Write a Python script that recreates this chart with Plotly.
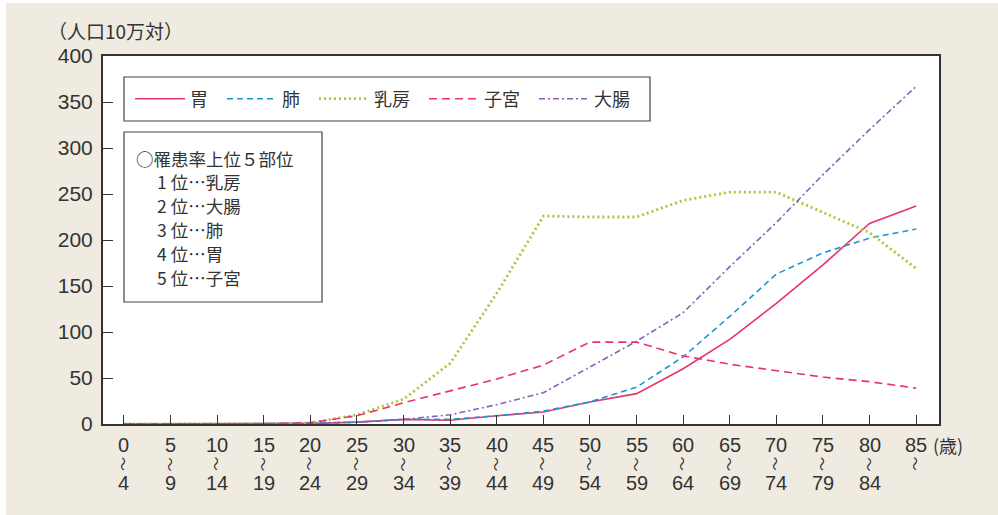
import plotly.graph_objects as go

# ---- data ----
age_start = ["0", "5", "10", "15", "20", "25", "30", "35", "40", "45",
             "50", "55", "60", "65", "70", "75", "80", "85"]
age_end = ["4", "9", "14", "19", "24", "29", "34", "39", "44", "49",
           "54", "59", "64", "69", "74", "79", "84", ""]

stomach = [0.1, 0.1, 0.1, 0.2, 0.5, 2, 5, 4, 9, 13, 24, 33, 60, 92, 131, 173, 218, 237]
lung = [0.1, 0.1, 0.1, 0.2, 0.5, 2, 5, 5, 9, 14, 24, 40, 73, 117, 163, 186, 202, 212]
breast = [0, 0, 0, 0.2, 1, 10, 27, 66, 142, 226, 225, 225, 243, 252, 252, 230, 208, 169]
uterus = [0, 0, 0, 0.2, 1.5, 9, 23, 36, 49, 64, 89, 89, 74, 65, 58, 51, 46, 39]
colon = [0.1, 0.1, 0.1, 0.3, 1, 2, 5, 10, 21, 34, 62, 90, 121, 171, 219, 271, 320, 367]

series_names = ["胃", "肺", "乳房", "子宮", "大腸"]
ranking_title = "○罹患率上位５部位"
ranking = ["1 位…乳房", "2 位…大腸", "3 位…肺", "4 位…胃", "5 位…子宮"]
y_ticks = [0, 50, 100, 150, 200, 250, 300, 350, 400]

# ---- layout helpers ----
W, H = 998, 515
L, R, T, B = 103, 939, 56, 424


def px_x(p):
    return (p - L) / (R - L)


def px_y(p):
    return (B - p) / (B - T)


CJK = "Noto Sans CJK JP, sans-serif"
NUM = "Liberation Sans Narrow, Liberation Sans, Arial, sans-serif"
TXT = "#333333"
PINK = "#E8336F"
BLUE = "#1E96D2"
GREEN = "#A8C83C"
PURPLE = "#8C5FB4"

x = list(range(len(age_start)))

styles = [
    (stomach, PINK, "solid", 1.6),
    (lung, BLUE, "6px,4px", 1.6),
    (breast, GREEN, "2px,3px", 2.8),
    (uterus, PINK, "8px,5px", 1.6),
    (colon, PURPLE, "6px,3px,2px,3px", 1.6),
]

fig = go.Figure()
for name, (vals, col, dash, w) in zip(series_names, styles):
    fig.add_trace(go.Scatter(
        x=x, y=vals, mode="lines", name=name + "\u2002",
        line=dict(color=col, dash=dash, width=w),
        hoverinfo="skip",
    ))

annotations = []
# x tick labels: three rows (start, wave, end)
for i, (a, b) in enumerate(zip(age_start, age_end)):
    annotations.append(dict(x=i, y=0, xref="x", yref="paper", text=a,
                            showarrow=False, yanchor="middle", yshift=-21,
                            font=dict(family=NUM, size=20, color=TXT)))
    annotations.append(dict(x=i, y=0, xref="x", yref="paper", text="〜",
                            showarrow=False, yanchor="middle", xanchor="center",
                            yshift=-40, textangle=90,
                            font=dict(family=CJK, size=14, color=TXT)))
    if b:
        annotations.append(dict(x=i, y=0, xref="x", yref="paper", text=b,
                                showarrow=False, yanchor="middle", yshift=-59,
                                font=dict(family=NUM, size=20, color=TXT)))

# unit labels
annotations.append(dict(x=px_x(931), y=px_y(445), xref="paper", yref="paper",
                        text="(歳)", showarrow=False, xanchor="left", yanchor="middle",
                        font=dict(family=CJK, size=18, color=TXT)))
annotations.append(dict(x=px_x(46), y=px_y(30), xref="paper", yref="paper",
                        text="（人口10万対）", showarrow=False, xanchor="left", yanchor="middle",
                        font=dict(family=CJK, size=19, color=TXT)))

# ranking box text, one line each
rank_lines = [ranking_title] + ["\u3000\u2009" + r for r in ranking]
for k, line in enumerate(rank_lines):
    annotations.append(dict(x=px_x(134), y=px_y(158 + 23.8 * k), xref="paper", yref="paper",
                            text=line, showarrow=False, xanchor="left", yanchor="middle",
                            align="left",
                            font=dict(family=CJK, size=17.5, color=TXT)))

shapes = [
    # white page edges
    dict(type="rect", xref="paper", yref="paper",
         x0=px_x(0), x1=px_x(6), y0=px_y(H), y1=px_y(0),
         fillcolor="white", line=dict(width=0), layer="below"),
    dict(type="rect", xref="paper", yref="paper",
         x0=px_x(0), x1=px_x(W), y0=px_y(3), y1=px_y(0),
         fillcolor="white", line=dict(width=0), layer="below"),
    # legend box
    dict(type="rect", xref="paper", yref="paper",
         x0=px_x(124), x1=px_x(650), y0=px_y(121), y1=px_y(77),
         fillcolor="white", line=dict(color="#444444", width=1.2), layer="below"),
    # ranking box
    dict(type="rect", xref="paper", yref="paper",
         x0=px_x(124), x1=px_x(322), y0=px_y(302), y1=px_y(132),
         fillcolor="white", line=dict(color="#444444", width=1.2), layer="below"),
]

fig.update_layout(
    width=W, height=H,
    margin=dict(l=L, r=W - R, t=T, b=H - B),
    paper_bgcolor="#EFEBE1",
    plot_bgcolor="white",
    showlegend=True,
    legend=dict(
        orientation="h", x=px_x(130), y=px_y(99), xanchor="left", yanchor="middle",
        bgcolor="rgba(0,0,0,0)", borderwidth=0,
        font=dict(family=CJK, size=18, color=TXT),
        itemwidth=50, tracegroupgap=0,
    ),
    annotations=annotations,
    shapes=shapes,
    xaxis=dict(
        range=[-0.45, 17.49], tickvals=x, showticklabels=False,
        ticks="inside", ticklen=9, tickwidth=1.2, tickcolor=TXT,
        showgrid=False, zeroline=False,
        showline=True, linecolor=TXT, linewidth=2, mirror=True,
    ),
    yaxis=dict(
        range=[0, 400], tickvals=y_ticks,
        ticks="inside", ticklen=10, tickwidth=1.2, tickcolor=TXT,
        showgrid=False, zeroline=False,
        showline=True, linecolor=TXT, linewidth=2, mirror=True,
        tickfont=dict(family=NUM, size=21, color=TXT),
        ticklabelstandoff=4,
    ),
)

fig.write_html(
    "out.html",
    config={"displayModeBar": False},
    post_script="document.body.style.margin='0';document.body.style.overflow='hidden';",
)
